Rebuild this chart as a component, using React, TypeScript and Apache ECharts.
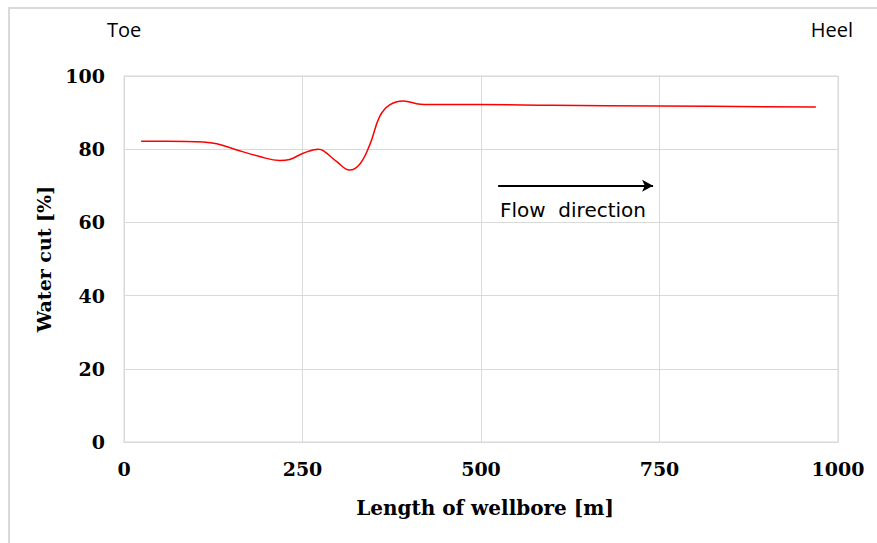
import React, { useEffect, useRef } from "react";
import * as echarts from "echarts";

const lengthM = [24, 60, 111, 130, 158, 190, 218, 232, 251, 272, 279, 298, 316, 331, 345, 358, 372, 391, 415, 443, 499, 600, 751, 969];
const waterCut = [82.2, 82.2, 82.0, 81.5, 79.8, 78.0, 76.9, 77.2, 78.9, 80.0, 79.6, 76.6, 74.3, 76.1, 81.6, 88.9, 92.1, 93.2, 92.3, 92.2, 92.2, 92.0, 91.8, 91.5];
const arrowStart = [524, 70];
const arrowEnd = [741, 70];

export default function App() {
  const ref = useRef<HTMLDivElement>(null);
  useEffect(() => {
    document.body.style.margin = "0";
    const chart = echarts.init(ref.current!, null, { renderer: "svg" });
    const serif = "DejaVu Serif";
    const sans = "Open Sans";
    chart.setOption({
      animation: false,
      backgroundColor: "#ffffff",
      grid: { left: 124, right: 39, top: 76, bottom: 101, show: true, borderColor: "#d9d9d9", borderWidth: 1 },
      xAxis: {
        type: "value",
        min: 0,
        max: 1000,
        interval: 250,
        axisLine: { show: true, lineStyle: { color: "#d9d9d9" } },
        axisTick: { show: false },
        splitLine: { show: true, lineStyle: { color: "#d9d9d9" } },
        axisLabel: { color: "#000", fontFamily: serif, fontWeight: "bold", fontSize: 19, margin: 17, formatter: (v: number) => String(v) },
        name: "Length of wellbore [m]",
        nameLocation: "middle",
        nameGap: 56,
        nameTextStyle: { color: "#000", fontFamily: serif, fontWeight: "bold", fontSize: 20, padding: [0, 0, 0, 8] },
      },
      yAxis: {
        type: "value",
        min: 0,
        max: 100,
        interval: 20,
        axisLine: { show: true, lineStyle: { color: "#d9d9d9" } },
        axisTick: { show: false },
        splitLine: { show: true, lineStyle: { color: "#d9d9d9" } },
        axisLabel: { color: "#000", fontFamily: serif, fontWeight: "bold", fontSize: 19, margin: 19 },
        name: "Water cut [%]",
        nameLocation: "middle",
        nameGap: 71,
        nameRotate: 90,
        nameTextStyle: { color: "#000", fontFamily: serif, fontWeight: "bold", fontSize: 19 },
      },
      series: [
        {
          type: "line",
          data: lengthM.map((x, i) => [x, waterCut[i]]),
          smooth: 0.4,
          showSymbol: false,
          lineStyle: { color: "#ff0000", width: 1.5 },
          markLine: {
            silent: true,
            symbol: ["none", "arrow"],
            symbolSize: [9, 11],
            label: { show: false },
            lineStyle: { color: "#000", width: 2, type: "solid" },
            data: [[{ coord: arrowStart }, { coord: arrowEnd }]],
          },
        },
      ],
      graphic: [
        { type: "rect", shape: { x: 9, y: 8, width: 900, height: 600 }, style: { fill: "none", stroke: "#d9d9d9", lineWidth: 2 }, silent: true },
        { type: "text", left: 107, top: 19, style: { text: "Toe", font: `20px "${sans}"`, fill: "#000" } },
        { type: "text", right: 24, top: 19, style: { text: "Heel", font: `20px "${sans}"`, fill: "#000" } },
        { type: "text", left: 500, top: 200, style: { text: "Flow  direction", font: `20px "DejaVu Sans"`, fill: "#000" } },
      ],
    });
    return () => chart.dispose();
  }, []);
  return <div ref={ref} style={{ width: 877, height: 543 }} />;
}
